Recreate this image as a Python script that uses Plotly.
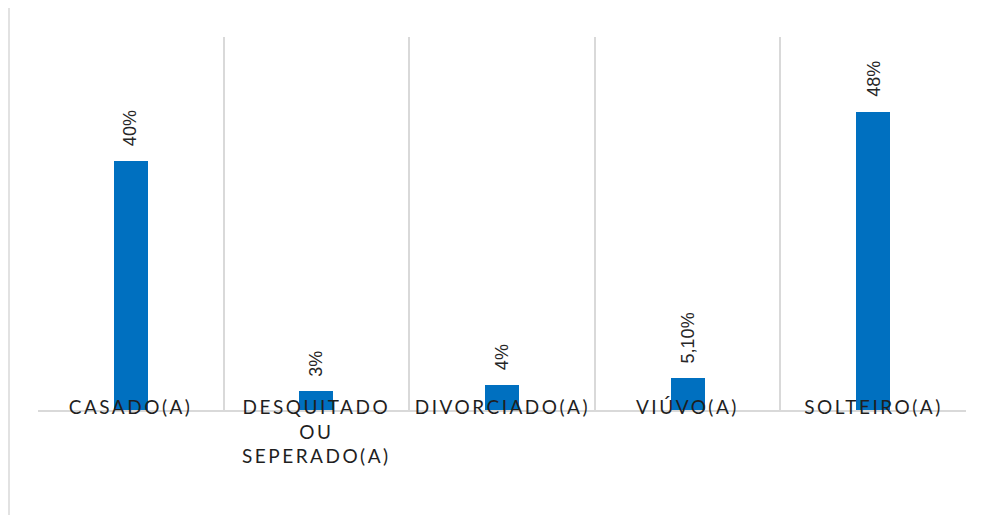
import plotly.graph_objects as go

categories = ["CASADO(A)", "DESQUITADO OU SEPERADO(A)", "DIVORCIADO(A)", "VIÚVO(A)", "SOLTEIRO(A)"]
category_labels = ["CASADO(A)", "DESQUITADO<br>OU<br>SEPERADO(A)", "DIVORCIADO(A)", "VIÚVO(A)", "SOLTEIRO(A)"]
values = [0.40, 0.03, 0.04, 0.051, 0.48]
value_labels = ["40%", "3%", "4%", "5,10%", "48%"]

BLUE = "#0070C0"
GRID = "#d9d9d9"

fig = go.Figure()
fig.add_trace(go.Bar(
    x=categories, y=values, width=0.183,
    marker=dict(color=BLUE, line=dict(width=0)),
    hoverinfo="skip",
))

annotations = []
for cat, lab in zip(categories, category_labels):
    annotations.append(dict(
        x=cat, y=0, xref="x", yref="y", text=lab, showarrow=False,
        xanchor="center", yanchor="top", yshift=17, align="center",
        font=dict(family="Lato, Open Sans, sans-serif", size=19, color="#1f1f1f"),
    ))
for cat, v, lab in zip(categories, values, value_labels):
    annotations.append(dict(
        x=cat, y=v, xref="x", yref="y", text=lab, showarrow=False,
        textangle=-90, xanchor="center", yanchor="bottom", yshift=13,
        font=dict(family="Liberation Sans, Arial, sans-serif", size=18, color="#262626"),
    ))

# page body has an 8px margin: figure is 974x507 placed at (8, 8)
fig.update_layout(
    width=974, height=507,
    margin=dict(l=30, r=16, t=29, b=105),
    paper_bgcolor="white", plot_bgcolor="white",
    showlegend=False,
    bargap=0,
    annotations=annotations,
    xaxis=dict(
        type="category", tickson="boundaries", showgrid=True, gridcolor=GRID, gridwidth=1.5,
        showticklabels=False, ticks="", showline=True, linecolor=GRID, linewidth=1.5,
        zeroline=False,
    ),
    yaxis=dict(
        range=[0, 0.6], showgrid=False, showticklabels=False, ticks="", showline=False,
        zeroline=False,
    ),
    shapes=[dict(
        type="line", xref="paper", yref="paper",
        x0=-29/928, x1=-29/928, y0=(402)/373, y1=(402-515)/373,
        line=dict(color=GRID, width=1.5), layer="below",
    )],
)

post = """
(function(){
  function spaceIt(){
    document.querySelectorAll('g.annotation').forEach(function(g){
      var i = +g.getAttribute('data-index');
      if (i < 5) {
        g.querySelectorAll('text').forEach(function(t){ t.style.letterSpacing = '2.5px'; });
      }
    });
  }
  spaceIt();
  var gd = document.getElementsByClassName('plotly-graph-div')[0];
  if (gd && gd.on) { gd.on('plotly_afterplot', spaceIt); }
})();
"""

fig.write_html("out.html", post_script=post, config={"displayModeBar": False})
